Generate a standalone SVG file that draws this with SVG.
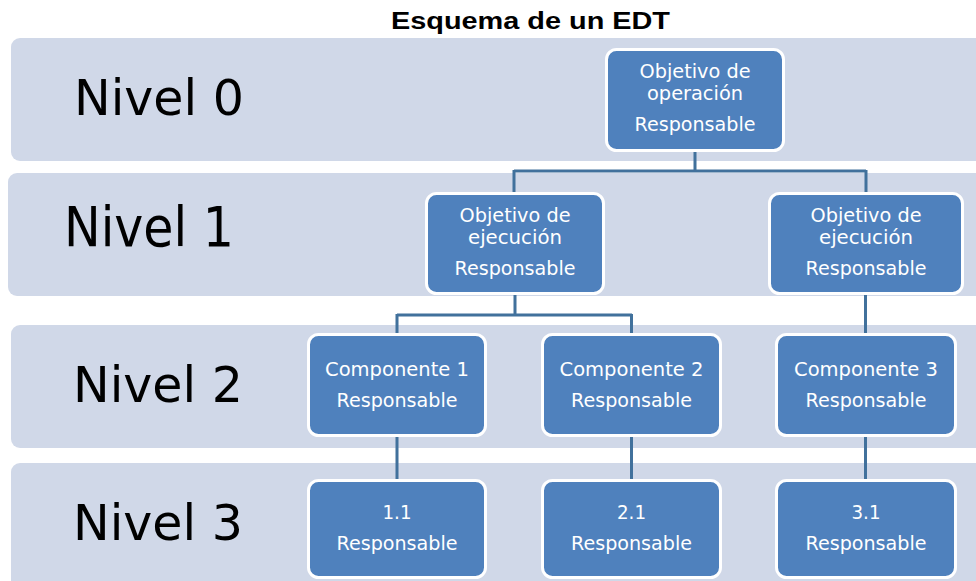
<svg xmlns="http://www.w3.org/2000/svg" width="976" height="581" viewBox="0 0 976 581">
<style>
.band{fill:#D0D8E8;}
.node{fill:#4F81BD;stroke:#FFFFFF;stroke-width:3;}
.lbl{font-family:"DejaVu Sans",sans-serif;font-size:19.5px;fill:#FFFFFF;text-anchor:middle;}
.lvl{font-family:"DejaVu Sans",sans-serif;font-size:49px;fill:#000000;}
.title{font-family:"Liberation Sans",Arial,sans-serif;font-weight:bold;font-size:23px;fill:#000000;}
.conn{fill:none;stroke:#41719C;stroke-width:3;}
</style>
<rect width="976" height="581" fill="#FFFFFF"/>
<text class="title" x="391" y="29" textLength="279" lengthAdjust="spacingAndGlyphs">Esquema de un EDT</text>
<g id="bands">
<rect class="band" x="11" y="38" width="990" height="123" rx="9"/>
<rect class="band" x="8" y="173" width="990" height="123" rx="9"/>
<rect class="band" x="11" y="325" width="990" height="123" rx="9"/>
<rect class="band" x="11" y="463" width="990" height="140" rx="9"/>
</g>
<g id="levels">
<text class="lvl" x="74" y="115" textLength="170" lengthAdjust="spacingAndGlyphs">Nivel 0</text>
<text class="lvl" x="64" y="246" style="font-size:56px" textLength="170" lengthAdjust="spacingAndGlyphs">Nivel 1</text>
<text class="lvl" x="73" y="402" textLength="170" lengthAdjust="spacingAndGlyphs">Nivel 2</text>
<text class="lvl" x="73" y="540" textLength="170" lengthAdjust="spacingAndGlyphs">Nivel 3</text>
</g>
<g id="connectors">
<path class="conn" d="M695,152 V171 M514,171 H866 M514,170 V192 M866,170 V192"/>
<path class="conn" d="M515,295 V315 M397,315 H632 M397,314 V333 M631.5,314 V333 M865.5,295 V333"/>
<path class="conn" d="M397,437 V479 M631.5,437 V479 M865.5,437 V479"/>
</g>
<g id="n0">
<rect class="node" x="606.5" y="49.5" width="177" height="101" rx="10"/>
<text class="lbl" x="695" y="78" textLength="111" lengthAdjust="spacingAndGlyphs">Objetivo de</text>
<text class="lbl" x="695" y="100" textLength="96" lengthAdjust="spacingAndGlyphs">operación</text>
<text class="lbl" x="695" y="131" textLength="121" lengthAdjust="spacingAndGlyphs">Responsable</text>
</g>
<g id="n1a">
<rect class="node" x="426.5" y="193.5" width="177" height="100" rx="10"/>
<text class="lbl" x="515" y="222" textLength="111" lengthAdjust="spacingAndGlyphs">Objetivo de</text>
<text class="lbl" x="515" y="244" textLength="94" lengthAdjust="spacingAndGlyphs">ejecución</text>
<text class="lbl" x="515" y="275" textLength="121" lengthAdjust="spacingAndGlyphs">Responsable</text>
</g>
<g id="n1b">
<rect class="node" x="769.5" y="193.5" width="193" height="100" rx="10"/>
<text class="lbl" x="866" y="222" textLength="111" lengthAdjust="spacingAndGlyphs">Objetivo de</text>
<text class="lbl" x="866" y="244" textLength="94" lengthAdjust="spacingAndGlyphs">ejecución</text>
<text class="lbl" x="866" y="275" textLength="121" lengthAdjust="spacingAndGlyphs">Responsable</text>
</g>
<g id="c1">
<rect class="node" x="308.5" y="334.5" width="177" height="101" rx="10"/>
<text class="lbl" x="397" y="376" textLength="144" lengthAdjust="spacingAndGlyphs">Componente 1</text>
<text class="lbl" x="397" y="407" textLength="121" lengthAdjust="spacingAndGlyphs">Responsable</text>
</g>
<g id="c2">
<rect class="node" x="542.5" y="334.5" width="178" height="101" rx="10"/>
<text class="lbl" x="631.5" y="376" textLength="144" lengthAdjust="spacingAndGlyphs">Componente 2</text>
<text class="lbl" x="631.5" y="407" textLength="121" lengthAdjust="spacingAndGlyphs">Responsable</text>
</g>
<g id="c3">
<rect class="node" x="776.5" y="334.5" width="179" height="101" rx="10"/>
<text class="lbl" x="866" y="376" textLength="144" lengthAdjust="spacingAndGlyphs">Componente 3</text>
<text class="lbl" x="866" y="407" textLength="121" lengthAdjust="spacingAndGlyphs">Responsable</text>
</g>
<g id="t11">
<rect class="node" x="308.5" y="480.5" width="177" height="97" rx="10"/>
<text class="lbl" x="397" y="519" textLength="29" lengthAdjust="spacingAndGlyphs">1.1</text>
<text class="lbl" x="397" y="550" textLength="121" lengthAdjust="spacingAndGlyphs">Responsable</text>
</g>
<g id="t21">
<rect class="node" x="542.5" y="480.5" width="178" height="97" rx="10"/>
<text class="lbl" x="631.5" y="519" textLength="29" lengthAdjust="spacingAndGlyphs">2.1</text>
<text class="lbl" x="631.5" y="550" textLength="121" lengthAdjust="spacingAndGlyphs">Responsable</text>
</g>
<g id="t31">
<rect class="node" x="776.5" y="480.5" width="179" height="97" rx="10"/>
<text class="lbl" x="866" y="519" textLength="29" lengthAdjust="spacingAndGlyphs">3.1</text>
<text class="lbl" x="866" y="550" textLength="121" lengthAdjust="spacingAndGlyphs">Responsable</text>
</g>
</svg>
